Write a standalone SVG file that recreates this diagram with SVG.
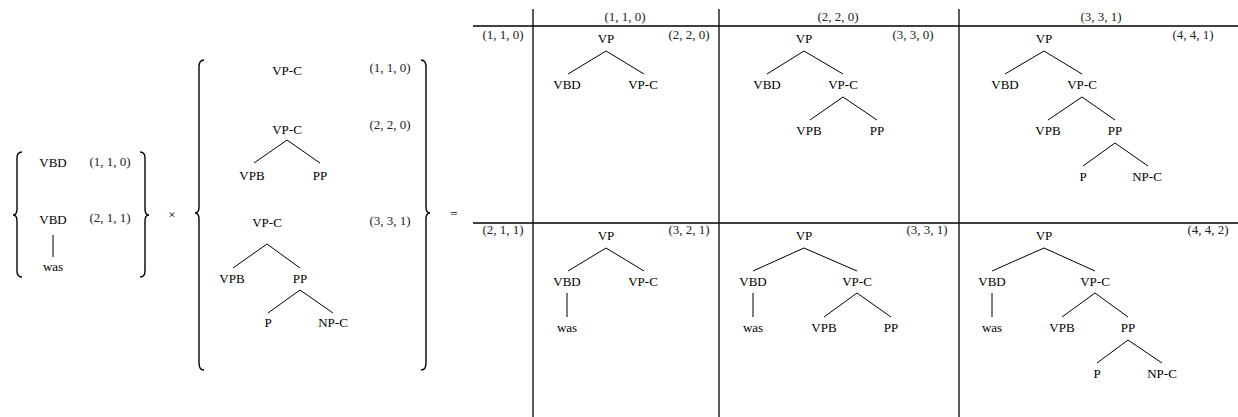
<svg xmlns="http://www.w3.org/2000/svg" width="1238" height="417" viewBox="0 0 1238 417" font-family="'Liberation Serif', Tinos, 'Times New Roman', 'DejaVu Serif', serif">
<style>
text{font-family:'Liberation Serif',Tinos,'Times New Roman','DejaVu Serif',serif;font-size:13px;fill:#000;text-anchor:middle}
text.lab{fill:#222}
.e{stroke:#000;stroke-width:1;fill:none}
.br{stroke:#000;stroke-width:1.4;fill:none}
.grid{stroke:#000;stroke-width:1.3}
</style>
<rect width="1238" height="417" fill="#fff"/>

<g id="braces">
<path class="br" d="M22,152 Q17,152 17,158 L17,209 Q17,215 13,215 Q17,215 17,221 L17,271 Q17,277 22,277"/>
<path class="br" d="M140,152 Q145,152 145,158 L145,209 Q145,215 149,215 Q145,215 145,221 L145,271 Q145,277 140,277"/>
<path class="br" d="M204,60 Q199,60 199,67 L199,207 Q199,213 195,213 Q199,213 199,219 L199,363 Q199,370 204,370"/>
<path class="br" d="M421,60 Q426,60 426,67 L426,207 Q426,213 430,213 Q426,213 426,219 L426,363 Q426,370 421,370"/>
</g>

<g id="operators">
<text x="172" y="219">×</text>
<text x="454" y="218">=</text>
</g>

<g id="connectors">
<line class="e" x1="53" y1="235" x2="53" y2="257"/>
<line class="e" x1="287" y1="140" x2="254" y2="163"/>
<line class="e" x1="287" y1="140" x2="320" y2="163"/>
<line class="e" x1="267" y1="244" x2="233" y2="268"/>
<line class="e" x1="267" y1="244" x2="300" y2="268"/>
<line class="e" x1="300" y1="290" x2="268" y2="313"/>
<line class="e" x1="300" y1="290" x2="333" y2="313"/>
<line class="e" x1="606" y1="51" x2="568" y2="74"/>
<line class="e" x1="606" y1="51" x2="644" y2="74"/>
<line class="e" x1="804" y1="51" x2="767" y2="74"/>
<line class="e" x1="804" y1="51" x2="843" y2="74"/>
<line class="e" x1="843" y1="97" x2="810" y2="120"/>
<line class="e" x1="843" y1="97" x2="877" y2="120"/>
<line class="e" x1="1044" y1="51" x2="1005" y2="74"/>
<line class="e" x1="1044" y1="51" x2="1082" y2="74"/>
<line class="e" x1="1082" y1="97" x2="1048" y2="120"/>
<line class="e" x1="1082" y1="97" x2="1115" y2="120"/>
<line class="e" x1="1115" y1="143" x2="1083" y2="166"/>
<line class="e" x1="1115" y1="143" x2="1148" y2="166"/>
<line class="e" x1="606" y1="248" x2="568" y2="271"/>
<line class="e" x1="606" y1="248" x2="644" y2="271"/>
<line class="e" x1="567" y1="293" x2="567" y2="317"/>
<line class="e" x1="804" y1="248" x2="753" y2="271"/>
<line class="e" x1="804" y1="248" x2="857" y2="271"/>
<line class="e" x1="753" y1="293" x2="753" y2="317"/>
<line class="e" x1="857" y1="293" x2="824" y2="317"/>
<line class="e" x1="857" y1="293" x2="891" y2="317"/>
<line class="e" x1="1044" y1="248" x2="992" y2="271"/>
<line class="e" x1="1044" y1="248" x2="1095" y2="271"/>
<line class="e" x1="992" y1="293" x2="992" y2="317"/>
<line class="e" x1="1095" y1="293" x2="1062" y2="317"/>
<line class="e" x1="1095" y1="293" x2="1128" y2="317"/>
<line class="e" x1="1128" y1="340" x2="1097" y2="363"/>
<line class="e" x1="1128" y1="340" x2="1162" y2="363"/>
</g>

<g id="grid">
<line class="grid" x1="473" y1="26" x2="1238" y2="26"/>
<line class="grid" x1="473" y1="223" x2="1238" y2="223"/>
<line class="grid" x1="533" y1="9" x2="533" y2="417"/>
<line class="grid" x1="719" y1="9" x2="719" y2="417"/>
<line class="grid" x1="959" y1="9" x2="959" y2="417"/>
</g>

<g id="set-left">
<text x="53" y="167">VBD</text>
<text class="lab" x="110" y="166">(1, 1, 0)</text>
<text x="53" y="224">VBD</text>
<text class="lab" x="110" y="222">(2, 1, 1)</text>
<text x="53" y="271">was</text>
</g>

<g id="set-middle">
<text x="287" y="75">VP-C</text>
<text class="lab" x="390" y="72">(1, 1, 0)</text>
<text x="287" y="134">VP-C</text>
<text class="lab" x="390" y="129">(2, 2, 0)</text>
<text x="252" y="180">VPB</text>
<text x="320" y="180">PP</text>
<text x="267" y="227">VP-C</text>
<text class="lab" x="390" y="225">(3, 3, 1)</text>
<text x="232" y="283">VPB</text>
<text x="300" y="283">PP</text>
<text x="268" y="327">P</text>
<text x="333" y="327">NP-C</text>
</g>

<g id="headers">
<text class="lab" x="625" y="21">(1, 1, 0)</text>
<text class="lab" x="838" y="21">(2, 2, 0)</text>
<text class="lab" x="1101" y="21">(3, 3, 1)</text>
<text class="lab" x="503" y="39">(1, 1, 0)</text>
<text class="lab" x="503" y="234">(2, 1, 1)</text>
</g>

<g id="cell-r1c1">
<text x="606" y="43">VP</text>
<text x="567" y="89">VBD</text>
<text x="643" y="89">VP-C</text>
<text class="lab" x="689" y="39">(2, 2, 0)</text>
</g>

<g id="cell-r1c2">
<text x="804" y="43">VP</text>
<text x="767" y="89">VBD</text>
<text x="843" y="89">VP-C</text>
<text x="809" y="135">VPB</text>
<text x="877" y="135">PP</text>
<text class="lab" x="913" y="39">(3, 3, 0)</text>
</g>

<g id="cell-r1c3">
<text x="1044" y="43">VP</text>
<text x="1005" y="89">VBD</text>
<text x="1082" y="89">VP-C</text>
<text x="1048" y="135">VPB</text>
<text x="1115" y="135">PP</text>
<text x="1083" y="181">P</text>
<text x="1147" y="181">NP-C</text>
<text class="lab" x="1193" y="39">(4, 4, 1)</text>
</g>

<g id="cell-r2c1">
<text x="606" y="240">VP</text>
<text x="567" y="286">VBD</text>
<text x="643" y="286">VP-C</text>
<text x="567" y="332">was</text>
<text class="lab" x="689" y="234">(3, 2, 1)</text>
</g>

<g id="cell-r2c2">
<text x="804" y="240">VP</text>
<text x="753" y="286">VBD</text>
<text x="857" y="286">VP-C</text>
<text x="753" y="332">was</text>
<text x="824" y="332">VPB</text>
<text x="891" y="332">PP</text>
<text class="lab" x="927" y="234">(3, 3, 1)</text>
</g>

<g id="cell-r2c3">
<text x="1044" y="240">VP</text>
<text x="992" y="286">VBD</text>
<text x="1095" y="286">VP-C</text>
<text x="992" y="332">was</text>
<text x="1062" y="332">VPB</text>
<text x="1128" y="332">PP</text>
<text x="1097" y="378">P</text>
<text x="1162" y="378">NP-C</text>
<text class="lab" x="1208" y="234">(4, 4, 2)</text>
</g>
</svg>
